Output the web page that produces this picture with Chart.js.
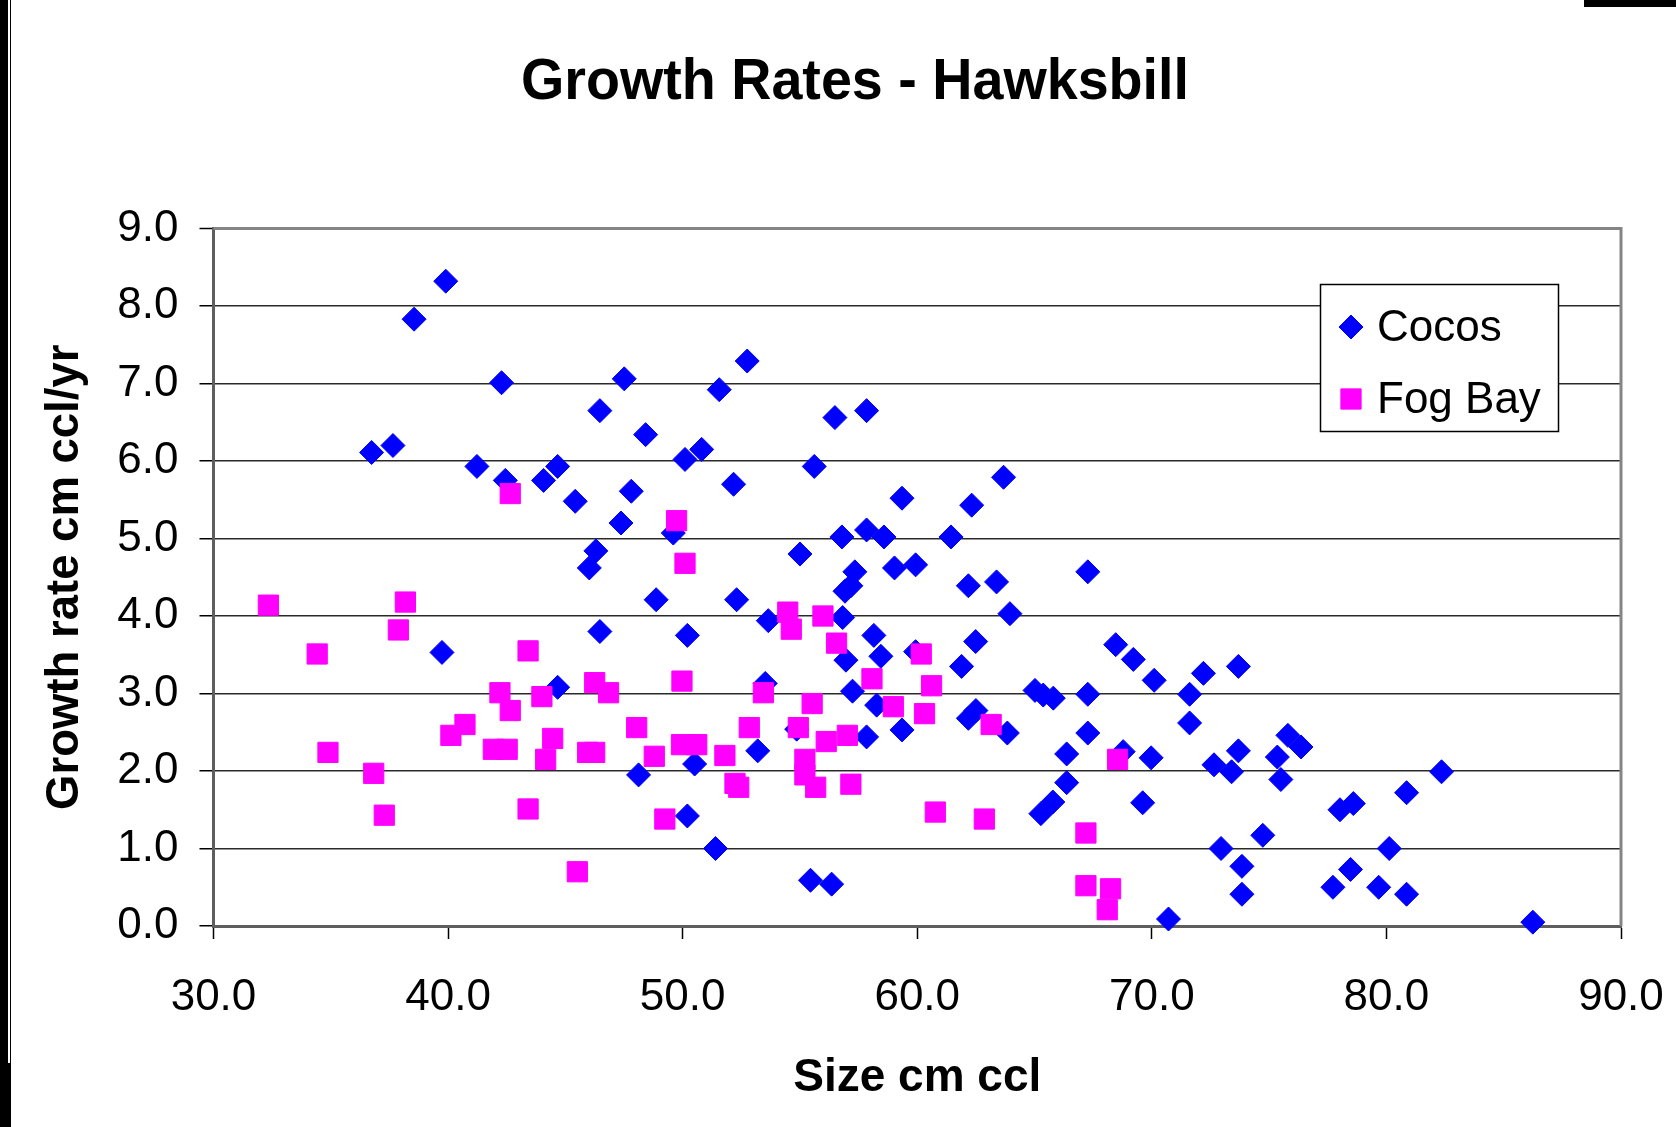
<!DOCTYPE html>
<html><head><meta charset="utf-8">
<script src="https://cdn.jsdelivr.net/npm/chart.js@4.4.1/dist/chart.umd.min.js"></script>
<style>
html,body{margin:0;padding:0;background:#fff;}
#wrap{position:relative;width:1676px;height:1127px;overflow:hidden;background:#fff;}
canvas{display:block;}
.edge{position:absolute;background:#000;}
</style></head><body>
<div id="wrap"><canvas id="c" width="1676" height="1127"></canvas>
<div class="edge" style="left:0;top:0;width:8px;height:1127px"></div>
<div class="edge" style="left:10px;top:0;width:1px;height:1063px"></div>
<div class="edge" style="left:0;top:1063px;width:11px;height:64px"></div>
<div class="edge" style="left:1584px;top:0;width:92px;height:7px"></div>
</div>
<script>
const chartTitle = 'Growth Rates - Hawksbill';
const xAxisTitle = 'Size cm ccl';
const yAxisTitle = 'Growth rate cm ccl/yr';
const seriesNames = ['Cocos', 'Fog Bay'];
const xTicks = [30, 40, 50, 60, 70, 80, 90];
const yTicks = [0, 1, 2, 3, 4, 5, 6, 7, 8, 9];

const cocosSize = [36.74,37.65,38.55,39.90,39.74,41.23,42.28,42.44,44.07,44.67,44.67,45.42,46.02,46.30,46.47,46.47,47.37,47.51,47.81,48.42,48.87,48.12,49.60,50.10,50.20,50.20,50.51,50.81,51.40,51.56,52.17,52.30,52.75,53.20,53.52,53.65,54.86,55.00,55.45,55.61,56.35,56.49,56.79,56.82,56.92,56.96,57.17,57.24,57.34,57.84,57.84,57.84,58.15,58.27,58.45,58.58,59.03,59.35,59.35,59.93,59.93,61.44,61.89,62.18,62.18,62.32,62.49,62.50,63.38,63.68,63.84,63.95,65.02,65.27,65.37,65.78,65.80,66.37,66.37,67.27,67.27,67.27,68.46,68.78,69.21,69.61,69.97,70.10,70.71,71.61,71.61,72.20,72.65,72.95,73.40,73.69,73.69,73.84,73.84,74.73,75.35,75.50,75.80,76.36,77.72,78.02,78.47,78.59,79.67,80.12,80.86,80.86,82.35,86.24];
const cocosRate = [6.11,6.20,7.83,8.32,3.53,5.93,7.01,5.75,5.75,5.93,3.08,5.48,4.62,4.84,6.65,3.80,5.20,7.06,5.61,6.34,4.21,1.95,5.07,6.02,3.75,1.42,2.09,6.15,1.00,6.92,5.70,4.21,7.29,2.26,3.13,3.94,2.54,4.80,0.59,5.93,0.54,6.56,5.02,3.98,4.32,3.43,4.39,3.03,4.57,6.65,5.11,2.44,3.75,2.85,3.48,5.02,4.62,5.52,2.53,4.66,3.54,5.02,3.35,4.39,2.68,5.43,3.67,2.78,4.44,5.79,2.49,4.03,3.04,1.45,2.98,1.60,2.94,2.22,1.85,4.57,2.99,2.49,3.63,2.25,3.44,1.59,2.17,3.17,0.09,2.99,2.62,3.26,2.08,1.00,1.99,3.35,2.26,0.77,0.41,1.17,2.18,1.89,2.46,2.31,0.50,1.50,0.73,1.58,0.50,1.00,1.72,0.41,1.99,0.05];

const fogBaySize = [32.34,34.42,34.88,36.83,37.28,37.88,38.18,40.12,40.72,41.93,42.21,42.52,42.65,42.65,43.41,43.41,44.00,44.16,44.46,45.51,45.95,46.25,46.25,46.84,48.04,48.79,49.24,49.74,49.95,49.97,50.10,50.60,51.80,52.23,52.39,52.84,53.44,54.48,54.63,54.93,55.21,55.21,55.52,55.67,55.98,56.12,56.56,57.02,57.17,58.07,58.98,60.17,60.31,60.61,60.77,62.86,63.15,67.19,67.19,68.10,68.24,68.54];
const fogBayRate = [4.14,3.51,2.24,1.97,1.43,3.82,4.18,2.46,2.60,2.28,3.01,2.28,2.78,5.58,3.55,1.51,2.96,2.15,2.42,0.70,2.24,2.24,3.14,3.01,2.56,2.19,1.38,5.23,2.34,3.16,4.68,2.34,2.20,1.84,1.79,2.56,3.01,4.05,3.83,2.56,2.15,1.95,2.87,1.79,4.00,2.38,3.65,2.46,1.83,3.19,2.83,3.51,2.74,3.10,1.47,1.38,2.60,1.20,0.52,0.21,0.48,2.15];

const FONT = "'Liberation Sans', Arial, Helvetica, sans-serif";
const toPoints = (xs, ys) => xs.map((x, i) => ({ x: x, y: ys[i] }));

function drawMarker(ctx, style, r, x, y, fill) {
  ctx.save();
  ctx.fillStyle = fill; ctx.strokeStyle = fill; ctx.lineWidth = 1;
  if (Chart.helpers && Chart.helpers.drawPoint) {
    Chart.helpers.drawPoint(ctx, { pointStyle: style, radius: r, rotation: 0, borderWidth: 1 }, x, y);
  } else {
    ctx.beginPath();
    if (style === 'rectRot') {
      ctx.moveTo(x - r, y); ctx.lineTo(x, y - r); ctx.lineTo(x + r, y); ctx.lineTo(x, y + r);
    } else {
      const s = Math.SQRT1_2 * r; ctx.rect(x - s, y - s, 2 * s, 2 * s);
    }
    ctx.closePath(); ctx.fill(); ctx.stroke();
  }
  ctx.restore();
}

const bgPlugin = {
  id: 'bg',
  beforeDraw(chart) {
    const ctx = chart.ctx; ctx.save(); ctx.fillStyle = '#ffffff';
    ctx.fillRect(0, 0, chart.width, chart.height); ctx.restore();
  }
};

const framePlugin = {
  id: 'frame',
  beforeDatasetsDraw(chart) {
    const { ctx, chartArea: a } = chart;
    ctx.save(); ctx.strokeStyle = '#858585'; ctx.lineWidth = 3;
    ctx.beginPath(); ctx.moveTo(a.left, a.top); ctx.lineTo(a.right, a.top); ctx.lineTo(a.right, a.bottom); ctx.stroke();
    ctx.restore();
  }
};

const legendPlugin = {
  id: 'boxLegend',
  afterDatasetsDraw(chart) {
    const ctx = chart.ctx;
    const bx = 1320.5, by = 284.5, bw = 238, bh = 147;
    ctx.save();
    ctx.fillStyle = '#ffffff'; ctx.fillRect(bx, by, bw, bh);
    ctx.strokeStyle = '#000'; ctx.lineWidth = 1.5; ctx.strokeRect(bx, by, bw, bh);
    ctx.font = '44px ' + FONT; ctx.fillStyle = '#000'; ctx.textAlign = 'left'; ctx.textBaseline = 'middle';
    const rows = [327, 399];
    chart.data.datasets.forEach((ds, i) => {
      drawMarker(ctx, ds.pointStyle, ds.pointRadius, 1351, rows[i], ds.backgroundColor);
      ctx.fillText(ds.label, 1377, rows[i] + 1.5);
    });
    ctx.restore();
  }
};

const titlePlugin = {
  id: 'bigTitle',
  afterDraw(chart) {
    const ctx = chart.ctx;
    ctx.save();
    ctx.font = 'bold 58px ' + FONT; ctx.fillStyle = '#000';
    ctx.textAlign = 'center'; ctx.textBaseline = 'alphabetic';
    const w = ctx.measureText(chartTitle).width;
    ctx.translate(855, 99); ctx.scale(668 / w, 1);
    ctx.fillText(chartTitle, 0, 0);
    ctx.restore();
  }
};

new Chart(document.getElementById('c'), {
  type: 'scatter',
  data: {
    datasets: [
      { label: seriesNames[0], data: toPoints(cocosSize, cocosRate), pointStyle: 'rectRot', pointRadius: 12, pointHoverRadius: 12,
        backgroundColor: '#0000ff', borderColor: '#0000ff', borderWidth: 1, order: 2, clip: false },
      { label: seriesNames[1], data: toPoints(fogBaySize, fogBayRate), pointStyle: 'rect', pointRadius: 14.3, pointHoverRadius: 14.3,
        backgroundColor: '#ff00ff', borderColor: '#ff00ff', borderWidth: 1, order: 1, clip: false }
    ]
  },
  options: {
    responsive: false, animation: false, devicePixelRatio: 1, events: [],
    layout: { padding: { top: 228.5, right: 55, bottom: 0, left: 0 } },
    plugins: { legend: { display: false }, title: { display: false }, tooltip: { enabled: false } },
    scales: {
      x: {
        type: 'linear', position: 'bottom', min: 30, max: 90,
        afterBuildTicks: s => { s.ticks = xTicks.map(v => ({ value: v })); },
        ticks: { font: { family: FONT, size: 44 }, color: '#000', padding: 32, maxRotation: 0, autoSkip: false,
          callback: v => Number(v).toFixed(1) },
        grid: { drawOnChartArea: false, drawTicks: true, tickLength: 13, tickColor: '#000', tickWidth: 1.5 },
        border: { display: true, color: '#5e5e5e', width: 3 },
        title: { display: true, text: xAxisTitle, color: '#000', font: { family: FONT, size: 46, weight: 'bold' },
          padding: { top: 0, bottom: 21 } },
        afterFit: s => { s.height = 201; s.paddingLeft = 0; s.paddingRight = 0; }
      },
      y: {
        type: 'linear', position: 'left', min: 0, max: 9,
        afterBuildTicks: s => { s.ticks = yTicks.map(v => ({ value: v })); },
        ticks: { font: { family: FONT, size: 44 }, color: '#000', padding: 21, autoSkip: false,
          callback: v => Number(v).toFixed(1) },
        grid: {
          color: c => (c.tick && c.tick.value === 9) ? '#858585' : '#2a2a2a',
          lineWidth: c => (c.tick && c.tick.value === 9) ? 3 : 1.5,
          drawTicks: true, tickLength: 14, tickColor: '#000', tickWidth: 1.5
        },
        border: { display: true, color: '#5e5e5e', width: 3 },
        title: { display: true, text: yAxisTitle, color: '#000', font: { family: FONT, size: 45.5, weight: 'bold' },
          padding: { top: 38.5, bottom: 0 } },
        afterFit: s => { s.width = 213.5; s.paddingTop = 0; s.paddingBottom = 0; }
      }
    }
  },
  plugins: [bgPlugin, framePlugin, legendPlugin, titlePlugin]
});
</script>
</body></html>
